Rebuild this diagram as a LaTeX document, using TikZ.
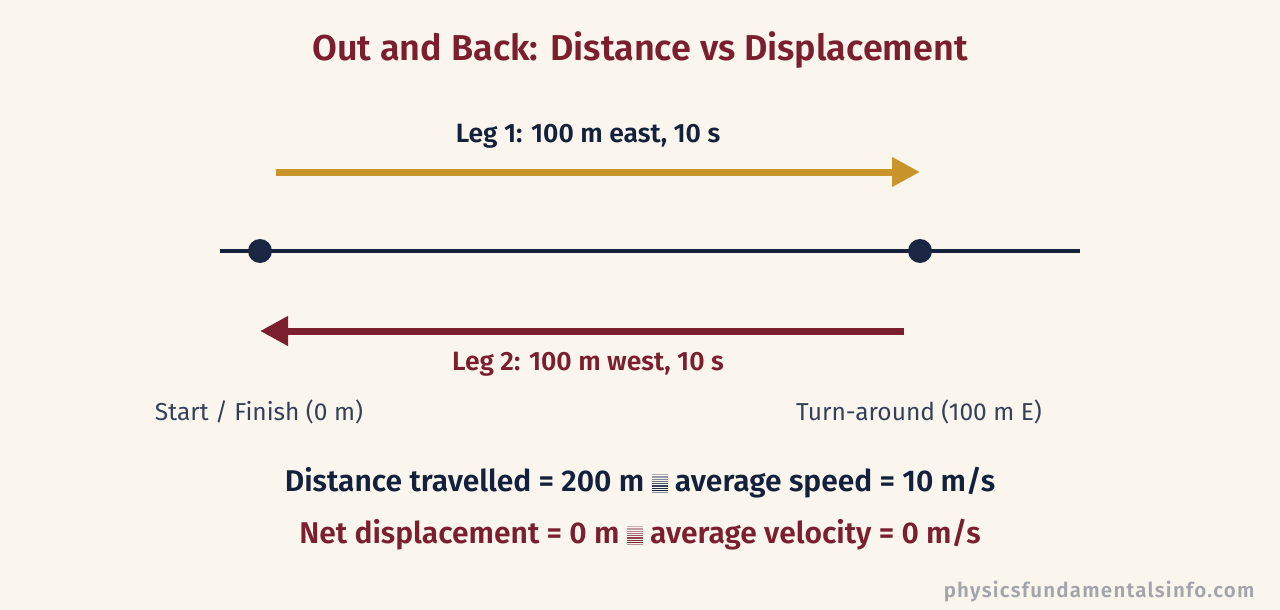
\documentclass[tikz,border=0pt]{standalone}
\usepackage{fontspec}
\setmainfont{Fira Sans}
\newfontfamily\semib{Fira Sans SemiBold}
\newfontfamily\semibw{Fira Sans SemiBold}[LetterSpace=6]
\usetikzlibrary{arrows.meta}
\definecolor{bg}{HTML}{FAF6EE}
\definecolor{darkred}{HTML}{7B1F2E}
\definecolor{gold}{HTML}{C9952B}
\definecolor{navy}{HTML}{14213D}
\definecolor{dotc}{HTML}{1B2642}
\definecolor{labc}{HTML}{34405A}
\definecolor{wm}{HTML}{A3A5AB}
\newcommand\stripebox[1]{\raisebox{-1.5pt}{\vbox{\offinterlineskip
 \color{#1!35}\hrule width 16pt height 1.3pt\vskip0.95pt
 \color{#1!45}\hrule width 16pt height 1.3pt\vskip0.95pt
 \color{#1!55}\hrule width 16pt height 1.3pt\vskip0.95pt
 \color{#1!65}\hrule width 16pt height 1.3pt\vskip0.95pt
 \color{#1!75}\hrule width 16pt height 1.3pt\vskip0.95pt
 \color{#1!85}\hrule width 16pt height 1.3pt\vskip0.95pt
 \color{#1!95}\hrule width 16pt height 1.3pt\vskip0.95pt
 \color{#1}\hrule width 16pt height 1.3pt\vskip0.95pt
 \color{#1!50}\hrule width 16pt height 1.3pt}}}
\tikzset{
 title/.style={font=\semib\fontsize{36}{40}\selectfont, text=darkred},
 leglab/.style={font=\semib\fontsize{26.5}{30}\selectfont},
 poslab/.style={font=\fontsize{24.5}{28}\selectfont, text=labc},
 summ/.style={font=\semib\fontsize{30}{34}\selectfont},
 wmark/.style={font=\semibw\fontsize{20.5}{24}\selectfont, text=wm},
 dot/.style={circle, fill=dotc, minimum size=24pt, inner sep=0pt},
 legarrow/.style={line width=7pt, -{Triangle[length=28pt,width=28pt]}},
}
\begin{document}
\begin{tikzpicture}[x=1pt,y=-1pt]
\fill[bg] (0,0) rectangle (1280,610);
\useasboundingbox (0,0) rectangle (1280,610);
\node[title] (t) at (640,50) {Out and Back: Distance vs Displacement};
\node[leglab, text=navy] (l1) at (588,136) {Leg 1: 100 m east, 10 s};
\coordinate (g1) at (276,172);
\coordinate (g2) at (920,172);
\draw[legarrow, draw=gold, fill=gold] (g1) -- (g2);
\coordinate (a) at (220,251);
\coordinate (b) at (1080,251);
\draw[navy, line width=3.5pt] (a) -- (b);
\node[dot] (s) at (260,251) {};
\node[dot] (e) at (920,251) {};
\coordinate (r1) at (904,331);
\coordinate (r2) at (260,331);
\draw[legarrow, draw=darkred, fill=darkred] (r1) -- (r2);
\node[leglab, text=darkred] (l2) at (588,364) {Leg 2: 100 m west, 10 s};
\node[poslab] (ps) at (259,412) {Start / Finish (0 m)};
\node[poslab] (pe) at (919,412) {Turn-around (100 m E)};
\node[summ, text=navy] (d1) at (640,483) {Distance travelled = 200 m \stripebox{navy} average speed = 10 m/s};
\node[summ, text=darkred] (d2) at (640,535) {Net displacement = 0 m \stripebox{darkred} average velocity = 0 m/s};
\node[wmark, anchor=east] (w) at (1258,592) {physicsfundamentalsinfo.com};
\end{tikzpicture}
\end{document}
